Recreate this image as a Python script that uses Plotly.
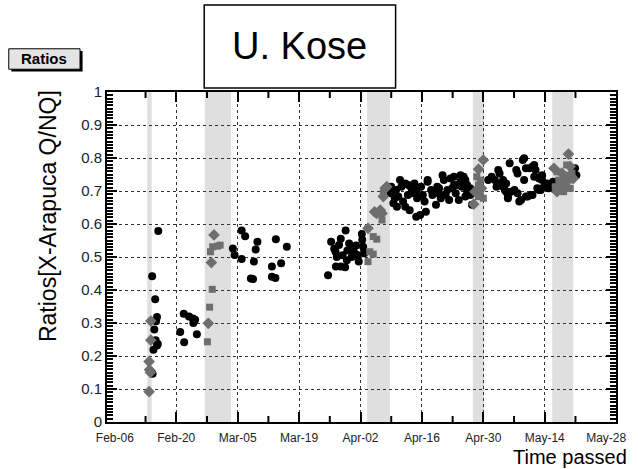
import pandas as pd
import plotly.graph_objects as go

# ---------------- data (day offsets from BASE_DATE, ratio values) ----------------
BASE_DATE = "2020-02-06"

BLACK_DAY = [
    9.9, 8.5, 9.2, 9.6, 9.4, 9.0, 9.3, 9.6, 8.8, 9.8, 8.6,
    15.7, 16.9, 17.8, 17.9, 18.3, 14.9, 18.7, 15.8,
    26.9, 27.3, 28.9, 28.9, 29.7, 32.5, 32.1, 31.7, 31.0, 31.5, 36.7, 39.2, 37.9, 35.8, 35.8, 36.6,
    48.6, 49.3, 50.3, 50.4, 51.1, 51.5, 52.5, 52.6, 53.4, 53.8, 54.5, 55.3, 55.6, 56.3, 56.4, 56.6,
    56.8, 50.6, 51.9, 52.9, 54.0, 55.0, 53.0, 50.0, 51.5,
    62.9, 63.8, 63.5, 65.0, 65.3, 64.6, 65.7, 66.8, 67.6, 67.2, 68.3, 68.7, 69.1, 68.7, 69.8, 70.2,
    70.6, 70.9, 71.3, 72.1, 72.4, 73.2, 73.5, 73.9, 74.3, 74.7, 75.0, 75.8, 76.2, 76.5, 77.3, 77.7,
    78.4, 78.8, 79.1, 79.9, 80.3, 81.0, 81.4,
    63.0, 64.1, 66.2, 66.9, 67.6, 68.9, 66.2, 64.3, 69.6,
    72.8, 73.9, 75.4, 76.9, 77.3, 78.0, 78.8, 79.5, 79.9, 80.3, 81.0, 71.3,
    85.1, 85.9, 86.6, 87.0, 87.7, 87.4, 88.5, 88.9, 89.2, 90.0, 89.6, 90.3, 91.1, 91.5, 91.8, 92.6,
    93.0, 93.3, 93.7, 94.5, 94.8, 95.2, 95.6, 95.9, 96.7, 97.1, 97.4, 97.8, 98.6, 98.9,
    87.4, 88.5, 89.2, 89.6, 91.8, 92.2, 93.3, 93.7, 94.1, 95.2, 95.6, 96.3, 96.7, 97.1, 97.4, 98.2,
    104.9, 105.2, 99.9, 100.2,
]
BLACK_VAL = [
    0.579, 0.442, 0.372, 0.318, 0.305, 0.280, 0.248, 0.232, 0.219, 0.236, 0.146,
    0.328, 0.320, 0.314, 0.300, 0.310, 0.273, 0.266, 0.242,
    0.526, 0.506, 0.494, 0.580, 0.563, 0.546, 0.523, 0.486, 0.435, 0.433, 0.554, 0.531, 0.481, 0.471, 0.440, 0.436,
    0.445, 0.546, 0.516, 0.471, 0.536, 0.471, 0.469, 0.580, 0.541, 0.526, 0.516, 0.506, 0.486, 0.570, 0.552, 0.531,
    0.511, 0.500, 0.505, 0.490, 0.500, 0.535, 0.520, 0.525, 0.555,
    0.693, 0.678, 0.663, 0.733, 0.713, 0.683, 0.668, 0.688, 0.693, 0.642, 0.723, 0.703, 0.683, 0.622, 0.713, 0.688,
    0.668, 0.637, 0.733, 0.703, 0.688, 0.658, 0.713, 0.693, 0.678, 0.748, 0.733, 0.703, 0.673, 0.738, 0.718, 0.693,
    0.673, 0.748, 0.713, 0.733, 0.698, 0.688, 0.658,
    0.713, 0.703, 0.723, 0.718, 0.708, 0.678, 0.652, 0.652, 0.627,
    0.693, 0.708, 0.688, 0.708, 0.743, 0.718, 0.728, 0.743, 0.683, 0.718, 0.708, 0.728,
    0.733, 0.743, 0.733, 0.713, 0.753, 0.723, 0.733, 0.703, 0.723, 0.784, 0.683, 0.698, 0.703, 0.764, 0.693, 0.673,
    0.794, 0.733, 0.683, 0.769, 0.688, 0.774, 0.743, 0.764, 0.703, 0.743, 0.733, 0.713, 0.723, 0.708,
    0.764, 0.713, 0.698, 0.678, 0.753, 0.668, 0.799, 0.769, 0.683, 0.688, 0.779, 0.708, 0.738, 0.703, 0.748, 0.713,
    0.769, 0.748, 0.728, 0.705,
]

GRAY_DIAMOND_DAY = [8.2, 8.2, 7.8, 7.9, 7.8, 8.1,
                    22.6, 22.0, 21.3,
                    57.7, 59.2, 59.7, 60.5, 60.9, 61.6, 62.0, 61.2,
                    84.0, 82.9, 83.6, 82.1, 81.8,
                    103.4, 103.8, 100.1, 101.9, 102.3, 104.5, 101.5, 100.8]
GRAY_DIAMOND_VAL = [0.306, 0.248, 0.183, 0.158, 0.092, 0.150,
                    0.567, 0.483, 0.299,
                    0.587, 0.637, 0.632, 0.642, 0.632, 0.708, 0.713, 0.683,
                    0.794, 0.766, 0.708, 0.698, 0.660,
                    0.812, 0.774, 0.769, 0.754, 0.728, 0.738, 0.713, 0.698]

GRAY_SQUARE_DAY = [22.3, 23.4, 24.0, 21.8, 22.2, 21.6, 21.1,
                   58.9, 59.7, 58.1, 58.9, 57.7, 60.9, 61.2,
                   82.5, 83.3, 82.9, 83.3, 82.9, 84.0,
                   103.0, 100.8, 102.7, 104.2, 101.2, 103.4, 100.4, 103.0, 103.8, 102.3]
GRAY_SQUARE_VAL = [0.531, 0.533, 0.536, 0.516, 0.402, 0.348, 0.243,
                   0.562, 0.554, 0.516, 0.509, 0.486, 0.612, 0.693,
                   0.743, 0.733, 0.718, 0.693, 0.683, 0.678,
                   0.779, 0.758, 0.748, 0.754, 0.733, 0.733, 0.713, 0.713, 0.708, 0.698]

BAND_START = [7.4, 20.5, 57.5, 81.6, 99.7]
BAND_END = [8.4, 26.5, 62.7, 84.2, 104.5]

TICK_DATES = ["2020-02-06", "2020-02-20", "2020-03-05", "2020-03-19", "2020-04-02",
              "2020-04-16", "2020-04-30", "2020-05-14", "2020-05-28"]
TICK_TEXT = ["Feb-06", "Feb-20", "Mar-05", "Mar-19", "Apr-02", "Apr-16", "Apr-30", "May-14", "May-28"]
GRID_DATES = TICK_DATES[1:-1]
HALF_DATES = ["2020-02-13", "2020-02-27", "2020-03-12", "2020-03-26", "2020-04-09",
              "2020-04-23", "2020-05-07", "2020-05-21"]
X_RANGE_DAYS = [-1.79, 114.24]

Y_TICKS = [0, 0.1, 0.2, 0.3, 0.4, 0.5, 0.6, 0.7, 0.8, 0.9, 1.0]
Y_TEXT = ["0", "0.1", "0.2", "0.3", "0.4", "0.5", "0.6", "0.7", "0.8", "0.9", "1"]

# ---------------- figure ----------------
base = pd.Timestamp(BASE_DATE)


def to_dates(days):
    return [base + pd.Timedelta(days=d) for d in days]


x_range = to_dates(X_RANGE_DAYS)
FONT = "Liberation Sans, Arial, Helvetica, sans-serif"
GRAY = "#6e6e6e"

fig = go.Figure()
fig.add_trace(go.Scatter(x=to_dates(BLACK_DAY), y=BLACK_VAL, mode="markers",
                         marker=dict(symbol="circle", size=8, color="black", line=dict(width=0)),
                         showlegend=False))
fig.add_trace(go.Scatter(x=to_dates(GRAY_DIAMOND_DAY), y=GRAY_DIAMOND_VAL, mode="markers",
                         marker=dict(symbol="diamond", size=9, color=GRAY, line=dict(width=0)),
                         showlegend=False))
fig.add_trace(go.Scatter(x=to_dates(GRAY_SQUARE_DAY), y=GRAY_SQUARE_VAL, mode="markers",
                         marker=dict(symbol="square", size=7, color=GRAY, line=dict(width=0)),
                         showlegend=False))

shapes = []
for s, e in zip(BAND_START, BAND_END):
    shapes.append(dict(type="rect", xref="x", yref="y", x0=base + pd.Timedelta(days=s),
                       x1=base + pd.Timedelta(days=e), y0=0, y1=1,
                       fillcolor="#dfdfdf", line=dict(width=0), layer="below"))

# short half-period tick marks on bottom and top axes
for d in HALF_DATES:
    shapes.append(dict(type="line", xref="x", yref="paper", x0=d, x1=d, ysizemode="pixel",
                       yanchor=0, y0=0, y1=6, line=dict(color="black", width=2), layer="above"))
    shapes.append(dict(type="line", xref="x", yref="paper", x0=d, x1=d, ysizemode="pixel",
                       yanchor=1, y0=0, y1=-6, line=dict(color="black", width=2), layer="above"))

# "U. Kose" box (paper coords)
shapes.append(dict(type="rect", xref="paper", yref="paper", x0=0.191, x1=0.567, y0=1.012, y1=1.264,
                   fillcolor="white", line=dict(color="black", width=1.5), layer="above"))
# "Ratios" label box with shadow
shapes.append(dict(type="rect", xref="paper", yref="paper", x0=-0.188, x1=-0.048, y0=1.062, y1=1.124,
                   fillcolor="black", line=dict(width=0), layer="above"))
shapes.append(dict(type="rect", xref="paper", yref="paper", x0=-0.193, x1=-0.053, y0=1.069, y1=1.131,
                   fillcolor="#e4e4e4", line=dict(color="black", width=1), layer="above"))

annotations = [
    dict(text="U. Kose", xref="paper", yref="paper", x=0.379, y=1.138, showarrow=False,
         font=dict(family=FONT, size=38, color="black"), xanchor="center", yanchor="middle"),
    dict(text="<b>Ratios</b>", xref="paper", yref="paper", x=-0.123, y=1.100, showarrow=False,
         font=dict(family=FONT, size=15, color="black"), xanchor="center", yanchor="middle"),
    dict(text="Time passed", xref="paper", yref="paper", x=1.025, y=-0.106, showarrow=False,
         font=dict(family=FONT, size=20, color="black"), xanchor="right", yanchor="middle"),
    dict(text="Ratios[X-Arapuca Q/NQ]", xref="paper", yref="paper", x=-0.116, y=0.624,
         showarrow=False, textangle=-90, font=dict(family=FONT, size=23, color="black"),
         xanchor="center", yanchor="middle"),
]

fig.update_layout(
    width=638, height=469,
    margin=dict(l=107, r=13, t=92, b=47),
    paper_bgcolor="white", plot_bgcolor="white",
    shapes=shapes, annotations=annotations,
    font=dict(family=FONT, color="black"),
    xaxis=dict(range=x_range, type="date", tickmode="array", tickvals=TICK_DATES, ticktext=TICK_TEXT,
               ticks="", showgrid=False, zeroline=False, showline=True, linecolor="black", linewidth=2,
               mirror="allticks", ticklabelstandoff=4,
               tickfont=dict(family=FONT, size=12, color="#222"),
               minor=dict(tickmode="array", tickvals=GRID_DATES, ticks="inside", ticklen=10,
                          tickwidth=2, tickcolor="black", showgrid=True, griddash="dot",
                          gridcolor="#333", gridwidth=1)),
    yaxis=dict(range=[0, 1], tickmode="array", tickvals=Y_TICKS, ticktext=Y_TEXT,
               ticks="inside", ticklen=10, tickwidth=2, tickcolor="black",
               showgrid=True, griddash="dot", gridcolor="#333", gridwidth=1, zeroline=False,
               showline=True, linecolor="black", linewidth=2, mirror="allticks",
               tickfont=dict(family=FONT, size=15, color="#222"),
               minor=dict(dtick=0.01, ticks="inside", ticklen=6, tickwidth=2, tickcolor="black",
                          showgrid=False)),
)

fig.write_html("out.html")
